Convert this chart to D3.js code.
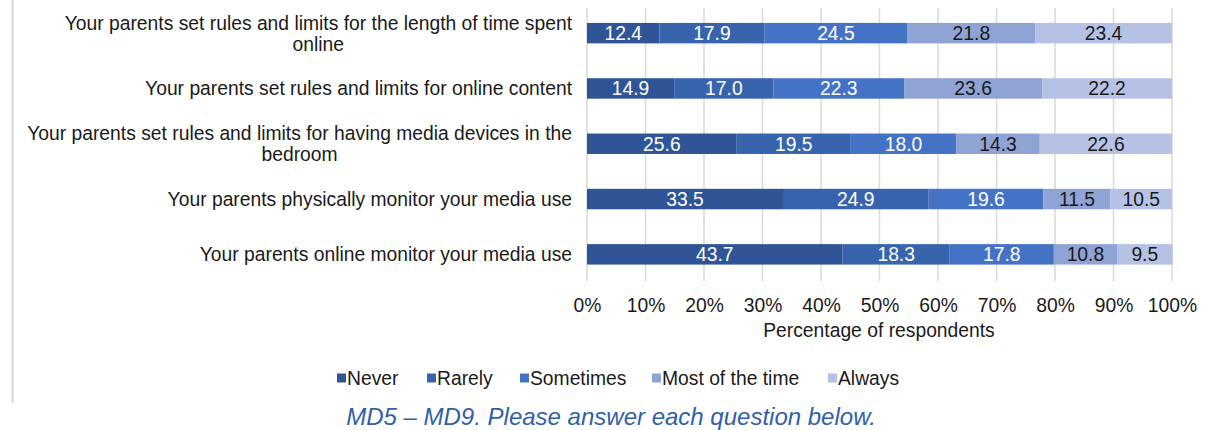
<!DOCTYPE html>
<html><head><meta charset="utf-8">
<script src="https://cdn.jsdelivr.net/npm/d3@7"></script>
<style>
html,body{margin:0;padding:0;background:#fff;}
svg{display:block;font-family:"Liberation Sans",Arial,sans-serif;}
</style></head>
<body>
<svg id="chart" width="1205" height="430"></svg>
<script>
const categories = [
  ["Your parents set rules and limits for the length of time spent", "online"],
  ["Your parents set rules and limits for online content"],
  ["Your parents set rules and limits for having media devices in the", "bedroom"],
  ["Your parents physically monitor your media use"],
  ["Your parents online monitor your media use"]
];
const seriesNames = ["Never", "Rarely", "Sometimes", "Most of the time", "Always"];
const never      = [12.4, 14.9, 25.6, 33.5, 43.7];
const rarely     = [17.9, 17.0, 19.5, 24.9, 18.3];
const sometimes  = [24.5, 22.3, 18.0, 19.6, 17.8];
const mostTime   = [21.8, 23.6, 14.3, 11.5, 10.8];
const always     = [23.4, 22.2, 22.6, 10.5, 9.5];
const tickValues = [0,10,20,30,40,50,60,70,80,90,100];
const colors = ["#2f5597", "#3864ae", "#4472c4", "#8fa3d5", "#b6c2e5"];
const labelColors = ["#fff", "#fff", "#fff", "#1a1a1a", "#1a1a1a"];
const caption = "MD5 \u2013 MD9. Please answer each question below.";

const series = [never, rarely, sometimes, mostTime, always];
const svg = d3.select("#chart");
const FS = 19.3;

const x = d3.scaleLinear().domain([0,100]).range([587, 1172]);
const y = d3.scaleBand().domain(d3.range(categories.length)).range([5.5, 282]).paddingInner(0.63).paddingOuter(0.315);

// chart border (left)
svg.append("line").attr("x1",12.5).attr("x2",12.5).attr("y1",0).attr("y2",403)
  .attr("stroke","#d4d4d4").attr("stroke-width",2);

// gridlines
svg.append("g").selectAll("line").data(tickValues).join("line")
  .attr("x1", d=>x(d)).attr("x2", d=>x(d))
  .attr("y1", 8).attr("y2", 281)
  .attr("stroke", "#d9d9d9").attr("stroke-width", 1.5);

// stacked data
const rows = categories.map((c,i)=>{ const o={i}; seriesNames.forEach((s,k)=>o[s]=series[k][i]); return o; });
const stack = d3.stack().keys(seriesNames)(rows);

const layers = svg.append("g").selectAll("g").data(stack).join("g")
  .attr("fill", (d,k)=>colors[k]);
layers.selectAll("rect").data(d=>d).join("rect")
  .attr("x", d=>x(d[0])).attr("width", d=>x(d[1])-x(d[0]))
  .attr("y", d=>y(d.data.i)).attr("height", y.bandwidth());

// value labels
stack.forEach((layer,k)=>{
  svg.append("g").selectAll("text").data(layer).join("text")
    .attr("x", d=>(x(d[0])+x(d[1]))/2)
    .attr("y", d=>y(d.data.i)+y.bandwidth()/2)
    .attr("dy", "0.36em")
    .attr("text-anchor","middle")
    .attr("font-size", FS)
    .attr("fill", labelColors[k])
    .text(d=>d3.format(".1f")(d[1]-d[0]));
});

// category labels
const cat = svg.append("g").selectAll("text").data(categories).join("text")
  .attr("font-size", FS).attr("fill", "#1a1a1a").attr("text-anchor","end");
cat.each(function(lines,i){
  const t = d3.select(this);
  const cy = y(i)+y.bandwidth()/2;
  const lh = 21;
  lines.forEach((ln,j)=>{
    const ty = cy - (lines.length-1)*lh/2 + j*lh;
    t.append("tspan").attr("x", 572).attr("y", ty).attr("dy","0.36em").text(ln);
  });
});
// center second lines relative to first line width
cat.each(function(lines,i){
  if (lines.length > 1) {
    const first = d3.select(this).select("tspan").node();
    const w = first.getComputedTextLength();
    d3.select(this).selectAll("tspan").filter((d,j)=>j>0).attr("x", 572 - w/2).attr("text-anchor","middle");
  }
});

// x axis tick labels
const axis = d3.axisBottom(x).tickValues(tickValues).tickFormat(d=>d+"%").tickSize(0).tickPadding(0);
const ax = svg.append("g").attr("transform","translate(0,298)").call(axis);
ax.select(".domain").remove();
ax.selectAll("text").attr("font-size",FS).attr("fill","#1a1a1a").attr("font-family","Liberation Sans, Arial, sans-serif");

svg.append("text").attr("x", 879).attr("y", 330).attr("dy","0.36em")
  .attr("text-anchor","middle").attr("font-size",FS).attr("fill","#1a1a1a")
  .text("Percentage of respondents");

// legend
const legendX = [337, 427, 520, 652, 828];
const lg = svg.append("g").selectAll("g").data(seriesNames).join("g")
  .attr("transform",(d,k)=>`translate(${legendX[k]},378)`);
lg.append("rect").attr("x",0).attr("y",-4.5).attr("width",9).attr("height",9).attr("fill",(d,k)=>colors[k]);
lg.append("text").attr("x",10).attr("y",0).attr("dy","0.36em").attr("font-size",FS).attr("fill","#1a1a1a").text(d=>d);

// caption
svg.append("text").attr("x", 611).attr("y", 416).attr("dy","0.36em")
  .attr("text-anchor","middle").attr("font-size",24).attr("font-style","italic")
  .attr("fill","#3060a8").text(caption);
</script>
</body></html>
